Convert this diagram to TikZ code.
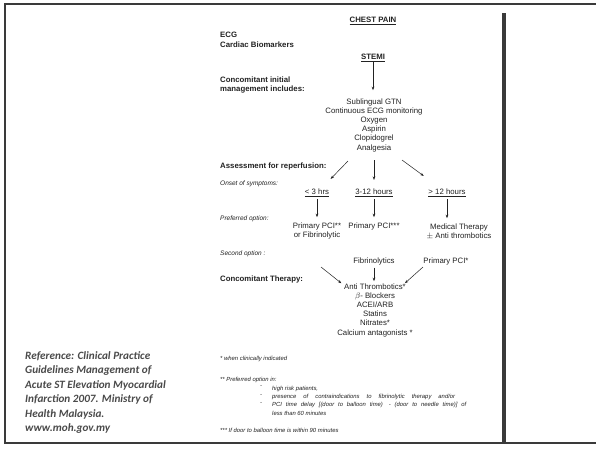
\documentclass[tikz,border=0pt]{standalone}
\usepackage{fontspec}
\setmainfont{Liberation Sans}
\newfontfamily\refont{Carlito}
\usetikzlibrary{arrows.meta}
\definecolor{frameink}{HTML}{3A3A3A}
\definecolor{refink}{HTML}{4A4A4A}
\definecolor{chartink}{HTML}{222222}

\begin{document}
\begin{tikzpicture}[
  x=1pt, y=-1pt,
  inner sep=0pt,
  font=\fontsize{7.8}{9.2}\selectfont,
  text=chartink,
  frameline/.style={draw=frameink, line width=2pt},
  hd/.style={font=\fontsize{7.8}{9.2}\selectfont\bfseries, anchor=base west},
  hdm/.style={font=\fontsize{7.8}{9.2}\selectfont\bfseries, anchor=north west, align=left},
  tt/.style={font=\fontsize{7.8}{9.2}\selectfont\bfseries, anchor=base},
  sub/.style={font=\fontsize{6.5}{8}\selectfont\itshape, anchor=base west},
  opt/.style={anchor=base},
  optm/.style={anchor=north, align=center},
  lst/.style={anchor=north, align=center, font=\fontsize{7.8}{9.2}\selectfont},
  fn/.style={font=\fontsize{5.9}{8.3}\selectfont\itshape, anchor=base west},
  fnm/.style={font=\fontsize{5.9}{8.3}\selectfont\itshape, anchor=north west, align=left},
  refnote/.style={font=\fontsize{11.2}{14.5}\selectfont\refont\bfseries\itshape, text=refink,
                  anchor=north west, align=left},
  arr/.style={draw=chartink, line width=0.5pt, -{Stealth[length=3.5pt,width=2.6pt]}},
]
\useasboundingbox (0,0) rectangle (596,448);
\fill[white] (0,0) rectangle (596,448);
\draw[frameline] (596,4) -- (5,4) -- (5,443) -- (596,443);
\draw[draw=frameink, line width=4pt] (504,13) -- (504,443);

\node[tt] (chest) at (373,22.8) {\underline{CHEST PAIN}};
\node[hdm] (ecg) at (220,32.2) {ECG\\Cardiac Biomarkers};
\node[tt] (stemi) at (373,59.8) {\underline{STEMI}};
\node[hdm] (conc) at (220,76.2) {Concomitant initial\\management includes:};
\node[lst] (mgmt) at (374,98.2) {Sublingual GTN\\Continuous ECG monitoring\\Oxygen\\Aspirin\\Clopidogrel\\Analgesia};
\node[hd] (assess) at (220,168.8) {Assessment for reperfusion:};
\node[sub] (onset) at (220,185.5) {Onset of symptoms:};
\node[opt] (t1) at (317,194.8) {\underline{< 3 hrs}};
\node[opt] (t2) at (374,194.8) {\underline{3-12 hours}};
\node[opt] (t3) at (447,194.8) {\underline{> 12 hours}};
\node[sub] (pref) at (220,220.5) {Preferred option:};
\node[optm] (p1) at (317,222.2) {Primary PCI**\\or Fibrinolytic};
\node[optm] (p2) at (374,222.2) {Primary PCI***};
\node[optm] (p3) at (459,223.2) {Medical Therapy\\$\pm$ Anti thrombotics};
\node[sub] (second) at (220,255.5) {Second option :};
\node[opt] (fib) at (374,263.8) {Fibrinolytics};
\node[opt] (pci4) at (446,263.8) {Primary PCI*};
\node[hd] (ctherapy) at (220,281.8) {Concomitant Therapy:};
\node[lst] (ther) at (375,283.2) {Anti Thrombotics*\\$\beta$- Blockers\\ACEI/ARB\\Statins\\Nitrates*\\Calcium antagonists *};

\node[fn] (fna) at (220,360) {* when clinically indicated};
\node[fn] (fnb) at (220,381) {** Preferred option in:};
\node[fnm] (fndash) at (260,385.8) {-\\-\\-};
\node[fnm] (fnlist) at (272,385.8) {high risk patients,\\\makebox[183pt][s]{presence of contraindications to fibrinolytic therapy and/or}\\\makebox[194pt][s]{PCI time delay [(door to balloon time)\quad- (door to needle time)] of}\\less than 60 minutes};
\node[fn] (fnc) at (220,432) {*** If door to balloon time is within 90 minutes};

\node[refnote] (ref) at (25,351) {Reference: Clinical Practice\\Guidelines Management of\\Acute ST Elevation Myocardial\\Infarction 2007. Ministry of\\Health Malaysia.\\www.moh.gov.my};

\coordinate (a1) at (348,161);
\coordinate (a2) at (374,160);
\coordinate (a3) at (402,160);
\coordinate (b1) at (321,267);
\coordinate (b3) at (423,267);

\draw[arr, shorten >=8pt] (stemi) -- (stemi |- mgmt.north);
\draw[arr, shorten >=14pt] (a1) -- (t1);
\draw[arr, shorten >=9pt] (a2) -- (t2);
\draw[arr, shorten >=22pt] (a3) -- (t3);
\draw[arr, shorten <=2pt, shorten >=5pt] (t1) -- (p1);
\draw[arr, shorten <=2pt, shorten >=5pt] (t2) -- (p2);
\draw[arr, shorten <=2pt, shorten >=5pt] (t3) -- (t3 |- p3.north);
\draw[arr] (b1) -- (ther);
\draw[arr, shorten <=2pt, shorten >=2pt] (fib) -- (fib |- ther.north);
\draw[arr] (b3) -- (ther);
\end{tikzpicture}
\end{document}
